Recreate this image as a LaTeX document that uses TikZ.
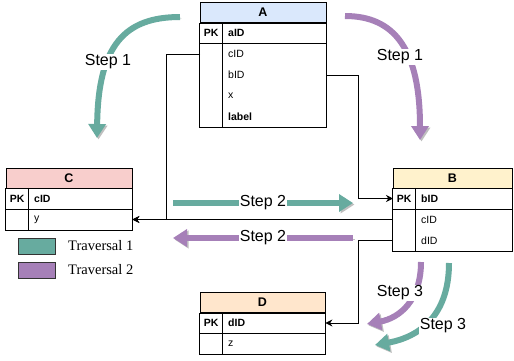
\documentclass[tikz,border=0pt]{standalone}
\usepackage{fontspec}
\setmainfont{Liberation Sans}
\newfontfamily\legendfont{Liberation Serif}
\usetikzlibrary{arrows.meta}
\definecolor{headA}{HTML}{DAE8FC}
\definecolor{headB}{HTML}{FFF2CC}
\definecolor{headC}{HTML}{F8CECC}
\definecolor{headD}{HTML}{FFE6CC}
\definecolor{trav1}{HTML}{67AB9F}
\definecolor{trav2}{HTML}{A680B8}
\newcommand{\pkrow}[1]{\makebox[22pt]{\textbf{PK}}\hspace{6pt}\textbf{#1}}
\newcommand{\fieldrow}[1]{\hspace*{28pt}#1}

\begin{document}
\begin{tikzpicture}[x=1pt, y=-1pt,
    head/.style = {draw, line width=0.9pt, minimum width=126pt, minimum height=20pt, inner sep=0pt, font=\fontsize{12.5}{14}\selectfont\bfseries},
    row/.style = {anchor=west, minimum height=21pt, inner sep=0pt, text width=126pt, align=left, font=\fontsize{10.5}{12}\selectfont},
    link/.style = {line width=0.9pt, -{Stealth[length=7pt, width=7pt]}},
    fat/.style = {line width=6pt, -{Triangle[length=14pt, width=17pt]}, preaction={draw=black!25, transform canvas={xshift=1.5pt, yshift=-1.5pt}}},
    steplabel/.style = {fill=white, inner sep=1pt, font=\fontsize{16}{18}\selectfont},
    key/.style = {draw=black!80, line width=0.9pt, minimum width=37pt, minimum height=16pt, anchor=north west}]
    \useasboundingbox (0,0) rectangle (514,360);

    % Table A
    \node[head, fill=headA] (Ahead) at (263,12.5) {A};
    \node[row] (AaID) at (200,33) {\pkrow{aID}};
    \node[row] (AcID) at (200,54) {\fieldrow{cID}};
    \node[row] (AbID) at (200,75) {\fieldrow{bID}};
    \node[row] (Ax) at (200,96) {\fieldrow{x}};
    \node[row] (Alabel) at (200,117) {\fieldrow{\textbf{label}}};
    \draw[line width=0.9pt] (Ahead.south west) rectangle (Alabel.south east);
    \draw[line width=0.9pt] (AaID.south west) -- (AaID.south east);
    \draw[line width=0.9pt] ([xshift=22pt]AaID.north west) -- ([xshift=22pt]Alabel.south west);

    % Table C
    \node[head, fill=headC] (Chead) at (69,178) {C};
    \node[row] (CcID) at (6,198.5) {\pkrow{cID}};
    \node[row] (Cy) at (6,219.5) {\fieldrow{y}};
    \draw[line width=0.9pt] (Chead.south west) rectangle (Cy.south east);
    \draw[line width=0.9pt] (CcID.south west) -- (CcID.south east);
    \draw[line width=0.9pt] ([xshift=22pt]CcID.north west) -- ([xshift=22pt]Cy.south west);

    % Table B
    \node[head, fill=headB, minimum width=119pt] (Bhead) at (452.5,178) {B};
    \node[row, text width=119pt] (BbID) at (393,198.5) {\pkrow{bID}};
    \node[row, text width=119pt] (BcID) at (393,219.5) {\fieldrow{cID}};
    \node[row, text width=119pt] (BdID) at (393,240.5) {\fieldrow{dID}};
    \draw[line width=0.9pt] (Bhead.south west) rectangle (BdID.south east);
    \draw[line width=0.9pt] (BbID.south west) -- (BbID.south east);
    \draw[line width=0.9pt] ([xshift=22pt]BbID.north west) -- ([xshift=22pt]BdID.south west);

    % Table D
    \node[head, fill=headD, minimum width=125pt] (Dhead) at (262.5,302.5) {D};
    \node[row, text width=125pt] (DdID) at (200,323) {\pkrow{dID}};
    \node[row, text width=125pt] (Dz) at (200,344) {\fieldrow{z}};
    \draw[line width=0.9pt] (Dhead.south west) rectangle (Dz.south east);
    \draw[line width=0.9pt] (DdID.south west) -- (DdID.south east);
    \draw[line width=0.9pt] ([xshift=22pt]DdID.north west) -- ([xshift=22pt]Dz.south west);

    % Relations
    \coordinate (j1) at (166,219.5);
    \coordinate (j2) at (358,198.5);
    \coordinate (j3) at (358,323);
    \draw[link] (AcID.west) -| (j1) -- (Cy.east);
    \draw[link] (AbID.east) -| (j2) -- (BbID.west);
    \draw[link] (BcID.west) -- (Cy.east);
    \draw[link] (BdID.west) -| (j3) -- (DdID.east);

    % Traversal arrows
    \draw[fat, trav1] (180,17) .. controls (125,17) and (98,45) .. (97,138);
    \draw[fat, trav2] (345,16) .. controls (395,16) and (420,50) .. (420,140);
    \draw[fat, trav1] (173,203) -- (353,203);
    \draw[fat, trav2] (353,238) -- (173,238);
    \draw[fat, trav2] (421,262) .. controls (421,300) and (400,318) .. (367,324);
    \draw[fat, trav1] (449,263) .. controls (449,315) and (420,337) .. (375,345);

    \node[steplabel] (s1a) at (108,62) {Step 1};
    \node[steplabel] (s1b) at (400,57) {Step 1};
    \node[steplabel] (s2a) at (263,203) {Step 2};
    \node[steplabel] (s2b) at (263,238) {Step 2};
    \node[steplabel] (s3b) at (400,293) {Step 3};
    \node[steplabel] (s3a) at (443,326) {Step 3};

    % Legend
    \node[key, fill=trav1] (k1) at (18,238) {};
    \node[key, fill=trav2] (k2) at (18,262) {};
    \node[anchor=west, inner sep=1pt, font=\legendfont\fontsize{14.5}{16}\selectfont] (t1) at (67,246) {Traversal 1};
    \node[anchor=west, inner sep=1pt, font=\legendfont\fontsize{14.5}{16}\selectfont] (t2) at (67,270) {Traversal 2};
\end{tikzpicture}
\end{document}
